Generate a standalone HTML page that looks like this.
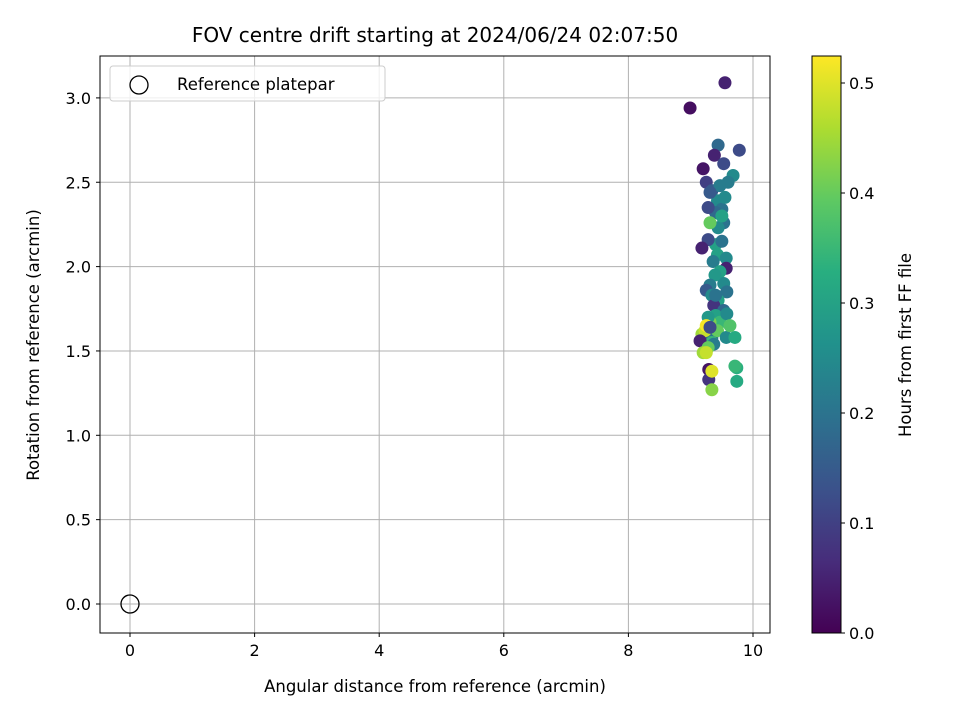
<!DOCTYPE html>
<html><head><meta charset="utf-8"><style>
body{margin:0;background:#fff;}
svg text{font-family:"DejaVu Sans","Liberation Sans",sans-serif;fill:#000;}
</style></head><body>
<svg id="chart" width="960" height="720" viewBox="0 0 960 720">
<defs><linearGradient id="vir" x1="0" y1="1" x2="0" y2="0">
<stop offset="0" stop-color="#440154"/><stop offset="0.125" stop-color="#472d7b"/><stop offset="0.25" stop-color="#3b528b"/><stop offset="0.375" stop-color="#2c728e"/><stop offset="0.5" stop-color="#21918c"/><stop offset="0.625" stop-color="#28ae80"/><stop offset="0.75" stop-color="#5ec962"/><stop offset="0.875" stop-color="#addc30"/><stop offset="1" stop-color="#fde725"/></linearGradient></defs>
<text x="435" y="42" font-size="20" text-anchor="middle">FOV centre drift starting at 2024/06/24 02:07:50</text>
<g id="grid"></g><g id="pts"></g><g id="axes"></g>
<text x="435" y="692" font-size="16.5" text-anchor="middle">Angular distance from reference (arcmin)</text>
<text transform="translate(39,345) rotate(-90)" font-size="16.5" text-anchor="middle">Rotation from reference (arcmin)</text>
<g>
<rect x="110" y="66" width="275" height="35" fill="#fff" fill-opacity="0.8" stroke="#ccc" rx="3"/>
<circle cx="139" cy="85" r="9" fill="none" stroke="#000" stroke-width="1.3"/>
<text x="177" y="90" font-size="16.5">Reference platepar</text>
</g>
<rect x="812" y="56" width="29" height="577" fill="url(#vir)" stroke="#000"/>
<g id="cb"></g>
<text transform="translate(911,345) rotate(-90)" font-size="16.5" text-anchor="middle">Hours from first FF file</text>
</svg>
<script>
const xTicks=[0,2,4,6,8,10];
const yTicks=[0.0,0.5,1.0,1.5,2.0,2.5,3.0];
const cbTicks=[0.0,0.1,0.2,0.3,0.4,0.5];
const xs=[9.55,8.99,9.44,9.78,9.38,9.20,9.53,9.68,9.25,9.34,9.47,9.60,9.43,9.31,9.50,9.40,9.28,9.53,9.44,9.40,9.28,9.18,9.50,9.43,9.57,9.36,9.57,9.47,9.53,9.39,9.31,9.25,9.34,9.58,9.44,9.37,9.53,9.40,9.47,9.58,9.31,9.18,9.28,9.34,9.43,9.57,9.34,9.71,9.23,9.25,9.31,9.15,9.37,9.28,9.20,9.63,9.74,9.74,9.29,9.29,9.34,9.34,9.71,9.25,9.40,9.50,9.31,9.55];
const ys=[3.09,2.94,2.72,2.69,2.66,2.58,2.61,2.54,2.50,2.45,2.48,2.50,2.39,2.44,2.34,2.32,2.35,2.26,2.23,2.13,2.16,2.11,2.15,2.07,2.05,2.03,1.99,1.97,1.90,1.95,1.89,1.86,1.83,1.85,1.80,1.77,1.74,1.71,1.67,1.72,1.67,1.60,1.70,1.58,1.62,1.58,1.55,1.58,1.62,1.65,1.64,1.56,1.54,1.52,1.49,1.65,1.40,1.32,1.39,1.33,1.27,1.38,1.41,1.49,1.83,2.30,2.26,2.41];
const hrs=[0.05,0.02,0.18,0.12,0.05,0.03,0.12,0.25,0.10,0.15,0.22,0.22,0.25,0.15,0.20,0.18,0.12,0.20,0.25,0.30,0.12,0.05,0.20,0.30,0.25,0.22,0.05,0.30,0.25,0.28,0.22,0.15,0.25,0.20,0.30,0.08,0.18,0.30,0.35,0.25,0.42,0.45,0.28,0.20,0.40,0.25,0.35,0.32,0.48,0.52,0.12,0.05,0.22,0.40,0.45,0.38,0.33,0.32,0.03,0.08,0.43,0.50,0.35,0.48,0.20,0.30,0.40,0.25];
const X=v=>130+v*62.3, Y=v=>604-v*168.7, CB=v=>633-v*1100, CMAX=0.5245;
const NS='http://www.w3.org/2000/svg';
function mk(p,t,a){const e=document.createElementNS(NS,t);for(const k in a)e.setAttribute(k,a[k]);document.getElementById(p).appendChild(e);return e;}
const vir=[[68,1,84],[71,44,122],[59,81,139],[44,113,142],[33,144,140],[39,173,129],[92,200,99],[170,220,50],[253,231,37]];
function col(v){let t=Math.max(0,Math.min(1,v/CMAX))*8;let i=Math.min(7,Math.floor(t)),f=t-i;const a=vir[i],b=vir[i+1];return 'rgb('+a.map((c,k)=>Math.round(c+(b[k]-c)*f)).join(',')+')';}
xTicks.forEach(t=>{const x=X(t);
const g=mk('grid','line',{x1:x,x2:x,y1:56,y2:633,stroke:'#b0b0b0','stroke-width':1});

mk('axes','line',{x1:x,x2:x,y1:633,y2:637,stroke:'#000'});
const l=mk('axes','text',{x:x,y:656,'font-size':16,'text-anchor':'middle'});l.textContent=t;
});
yTicks.forEach(t=>{const y=Y(t);
const g=mk('grid','line',{x1:100,x2:770,y1:y,y2:y,stroke:'#b0b0b0','stroke-width':1});

mk('axes','line',{x1:96,x2:100,y1:y,y2:y,stroke:'#000'});
const l=mk('axes','text',{x:91,y:y+6,'font-size':16,'text-anchor':'end'});l.textContent=t.toFixed(1);
});
const fr=mk('axes','rect',{x:100,y:56,width:670,height:577,fill:'none',stroke:'#000'});

const ref=mk('pts','circle',{cx:X(0),cy:Y(0),r:9,fill:'none',stroke:'#000','stroke-width':1.3});

xs.forEach((v,i)=>{const c=mk('pts','circle',{cx:X(v),cy:Y(ys[i]),r:6.5,fill:col(hrs[i])});
});
cbTicks.forEach(t=>{const y=CB(t);mk('cb','line',{x1:841,x2:845,y1:y,y2:y,stroke:'#000'});
const l=mk('cb','text',{x:849,y:y+6,'font-size':16});l.textContent=t.toFixed(1);
});
</script>
</body></html>
